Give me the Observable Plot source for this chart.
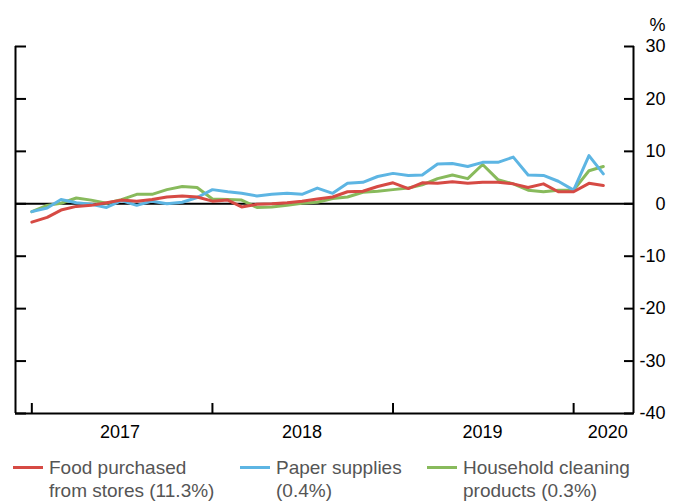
<!DOCTYPE html>
<html>
<head>
<meta charset="utf-8">
<script src="https://cdn.jsdelivr.net/npm/d3@7"></script>
<script src="https://cdn.jsdelivr.net/npm/@observablehq/plot@0.6"></script>
<style>
  html, body { margin: 0; padding: 0; background: #fff; }
  #wrap { position: relative; width: 678px; height: 501px; font-family: "Liberation Sans", Arial, Helvetica, sans-serif; }
  .item { position: absolute; top: 456px; display: flex; align-items: flex-start; color: #555; font-size: 19px; line-height: 23px; }
  .sw { width: 30px; height: 3px; margin-top: 10px; margin-right: 6px; }
</style>
</head>
<body>
<div id="wrap"></div>
<script>
// Monthly observations, Jan 2017 – Mar 2020 (% change, year over year)
const months = d3.utcMonth.range(new Date(Date.UTC(2017, 0, 1)), new Date(Date.UTC(2020, 3, 1)));
const food = [-3.5,-2.6,-1.2,-0.5,-0.3,0.2,0.7,0.5,0.8,1.3,1.5,1.3,
              0.5,0.7,-0.6,-0.1,0.0,0.2,0.5,0.9,1.3,2.3,2.4,3.3,
              4.0,2.9,4.0,3.9,4.2,3.9,4.1,4.1,3.8,3.1,3.8,2.3,
              2.3,3.9,3.5];
const paper = [-1.5,-0.8,0.8,0.2,-0.1,-0.7,0.6,-0.3,0.5,0.0,0.3,1.2,
               2.7,2.3,2.0,1.5,1.8,2.0,1.8,3.0,2.0,3.9,4.1,5.2,
               5.8,5.4,5.5,7.6,7.7,7.1,7.9,7.9,8.9,5.5,5.4,4.3,
               2.6,9.2,5.7];
const household = [-1.5,-0.3,0.1,1.1,0.7,0.1,0.8,1.8,1.8,2.7,3.3,3.1,
                   0.9,0.8,0.7,-0.7,-0.6,-0.3,0.1,0.3,1.0,1.3,2.2,2.4,
                   2.7,3.0,3.6,4.8,5.5,4.8,7.5,4.6,3.8,2.6,2.3,2.6,
                   2.6,6.3,7.1];
const seriesNames = ["Food purchased from stores (11.3%)", "Paper supplies (0.4%)", "Household cleaning products (0.3%)"];
const legendLines = [["Food purchased", "from stores (11.3%)"], ["Paper supplies", "(0.4%)"], ["Household cleaning", "products (0.3%)"]];
const colors = ["#d64a44", "#5db5e3", "#88ba5c"];
const yTicks = [30, 20, 10, 0, -10, -20, -30, -40];
const yearTicks = [2017, 2018, 2019, 2020].map(y => new Date(Date.UTC(y, 0, 1)));
const yearLabels = ["2017", "2018", "2019", "2020"];
const yearLabelDates = [new Date(Date.UTC(2017, 5, 28)), new Date(Date.UTC(2018, 6, 1)), new Date(Date.UTC(2019, 6, 1)), new Date(Date.UTC(2020, 2, 10))];
const xDomain = [new Date(Date.UTC(2016, 10, 29)), new Date(Date.UTC(2020, 4, 1))];

const rows = (vals, k) => vals.map((v, i) => ({date: months[i], value: v, series: seriesNames[k]}));
const foodRows = rows(food, 0), paperRows = rows(paper, 1), hhRows = rows(household, 2);

const font = "Liberation Sans, Arial, Helvetica, sans-serif";
const chart = Plot.plot({
  width: 678,
  height: 450,
  marginLeft: 15,
  marginRight: 45,
  marginTop: 46,
  marginBottom: 37,
  style: {fontFamily: font, fontSize: "18px", color: "#000", background: "#fff", overflow: "visible"},
  x: {type: "utc", domain: xDomain, label: null},
  y: {domain: [-40, 30], label: null},
  marks: [
    Plot.ruleY([0], {stroke: "#000", strokeWidth: 2}),
    Plot.lineY(hhRows, {x: "date", y: "value", stroke: colors[2], strokeWidth: 3}),
    Plot.lineY(paperRows, {x: "date", y: "value", stroke: colors[1], strokeWidth: 3}),
    Plot.lineY(foodRows, {x: "date", y: "value", stroke: colors[0], strokeWidth: 3}),
    Plot.ruleY([-40], {stroke: "#000", strokeWidth: 2}),
    Plot.ruleX([xDomain[0]], {stroke: "#000", strokeWidth: 2}),
    Plot.ruleX([xDomain[1]], {stroke: "#000", strokeWidth: 2}),
    Plot.axisY({anchor: "left", ticks: yTicks, tickSize: -11, tickFormat: () => "", strokeWidth: 2}),
    Plot.axisY({anchor: "right", ticks: yTicks, tickSize: -10, tickFormat: () => "", strokeWidth: 2}),
    Plot.axisY({anchor: "right", ticks: yTicks, tickSize: 0, tickPadding: 32, textAnchor: "end", fontSize: 18, fill: "#000", tickFormat: d => String(d)}),
    Plot.axisX({ticks: yearTicks, tickSize: -10, tickFormat: () => "", strokeWidth: 2}),
    Plot.text(yearLabels, {x: (d, i) => yearLabelDates[i], y: () => -40, dy: 19, fontSize: 18, fill: "#000"}),
    Plot.text(["%"], {frameAnchor: "top-right", dx: 32, dy: -28, textAnchor: "end", fontSize: 18, fill: "#000"})
  ]
});
const wrap = document.getElementById("wrap");
wrap.appendChild(chart);

const lefts = [13, 240, 427];
legendLines.forEach((lines, k) => {
  const item = document.createElement("div");
  item.className = "item";
  item.style.left = lefts[k] + "px";
  const sw = document.createElement("div");
  sw.className = "sw";
  sw.style.background = colors[k];
  const txt = document.createElement("div");
  txt.innerHTML = lines.join("<br>");
  item.appendChild(sw);
  item.appendChild(txt);
  wrap.appendChild(item);
});
</script>
</body>
</html>
